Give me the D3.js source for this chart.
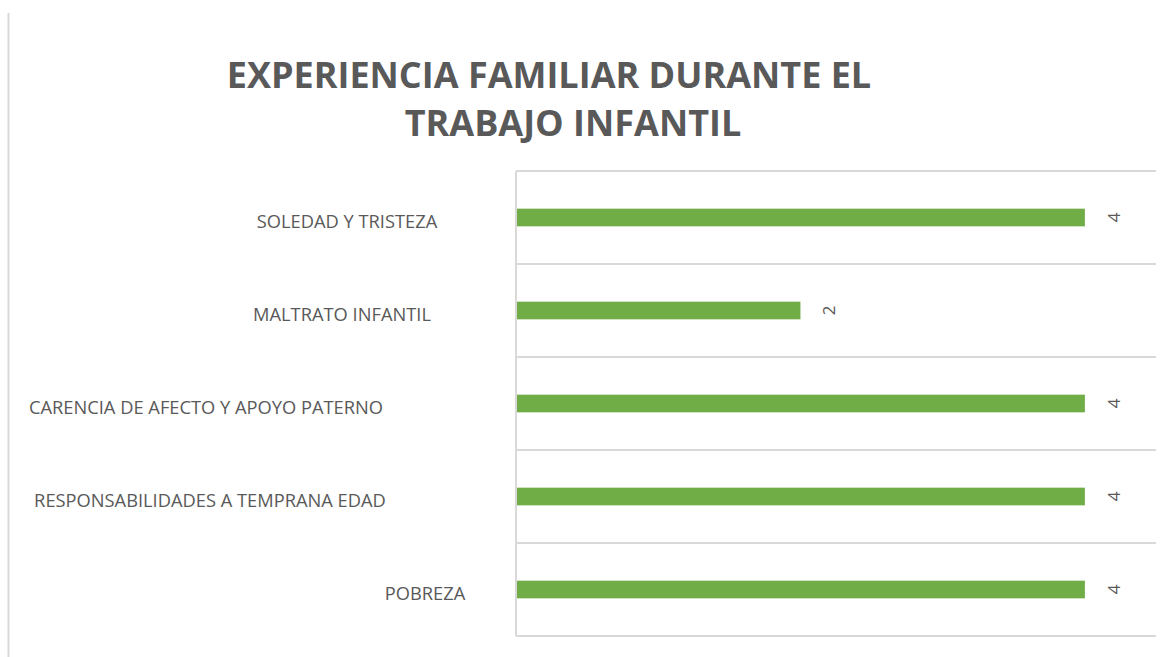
<!DOCTYPE html>
<html>
<head>
<meta charset="utf-8">
<script src="https://cdnjs.cloudflare.com/ajax/libs/d3/7.8.5/d3.min.js"></script>
<style>
  body { margin: 0; background: #fff; }
  text { font-family: "Open Sans", "Liberation Sans", sans-serif; }
</style>
</head>
<body>
<div id="chart"></div>
<script>
// data, top to bottom as shown
var categories = [
  "SOLEDAD Y TRISTEZA",
  "MALTRATO INFANTIL",
  "CARENCIA DE AFECTO Y APOYO PATERNO",
  "RESPONSABILIDADES A TEMPRANA EDAD",
  "POBREZA"
]
var values = [4, 2, 4, 4, 4]
var titleLines = ["EXPERIENCIA FAMILIAR DURANTE EL", "TRABAJO INFANTIL"]

// the category labels are not aligned in the original, keep their centres
var labelCentre = [347, 342, 206, 210, 425]

var width = 1174,
  height = 657

var svg = d3.select("#chart").append("svg")
  .attr("width", width)
  .attr("height", height)

// thin border on the left edge
svg.append("line")
  .attr("x1", 8.5).attr("x2", 8.5)
  .attr("y1", 13).attr("y2", height)
  .attr("stroke", "#d9d9d9")
  .attr("stroke-width", 2)

var title = svg.append("g")
  .attr("fill", "#595959")
  .attr("font-weight", "bold")
  .attr("font-size", 36)
  .attr("text-anchor", "middle")

title.append("text").attr("x", 549).attr("y", 88).text(titleLines[0])
title.append("text").attr("x", 573).attr("y", 136).text(titleLines[1])

var x = d3.scaleLinear()
  .domain([0, 4.5])
  .range([516, 1156])

var y = d3.scaleBand()
  .domain(categories)
  .range([171, 636])
  .paddingInner(0.81)
  .paddingOuter(0.405)

var step = y.step()

// horizontal gridlines between categories
var grid = svg.append("g")
grid.selectAll("line")
  .data(d3.range(categories.length + 1))
  .join("line")
    .attr("x1", x(0))
    .attr("x2", x.range()[1])
    .attr("y1", i => y.range()[0] + i * step)
    .attr("y2", i => y.range()[0] + i * step)
    .attr("stroke", "#d9d9d9")
    .attr("stroke-width", 2)

// category axis line
svg.append("line")
  .attr("x1", x(0)).attr("x2", x(0))
  .attr("y1", y.range()[0]).attr("y2", y.range()[1])
  .attr("stroke", "#d9d9d9")
  .attr("stroke-width", 2)

svg.append("g")
  .selectAll("rect")
  .data(values)
  .join("rect")
    .attr("x", x(0) + 1)
    .attr("y", (d, i) => y(categories[i]))
    .attr("width", d => x(d) - x(0) - 1)
    .attr("height", y.bandwidth())
    .attr("fill", "#70ad47")

// value labels, rotated
svg.append("g")
  .attr("fill", "#595959")
  .attr("font-size", 17)
  .attr("text-anchor", "middle")
  .selectAll("text")
  .data(values)
  .join("text")
    .attr("transform", (d, i) => {
      var cx = x(d) + 29
      var cy = y(categories[i]) + y.bandwidth() / 2
      return `translate(${cx},${cy}) rotate(-90)`
    })
    .attr("dy", "0.35em")
    .text(d => d)

svg.append("g")
  .attr("fill", "#595959")
  .attr("font-size", 18.3)
  .attr("text-anchor", "middle")
  .selectAll("text")
  .data(categories)
  .join("text")
    .attr("x", (d, i) => labelCentre[i])
    .attr("y", d => y(d) + y.bandwidth() / 2 + 4)
    .attr("dy", "0.35em")
    .text(d => d)
</script>
</body>
</html>
